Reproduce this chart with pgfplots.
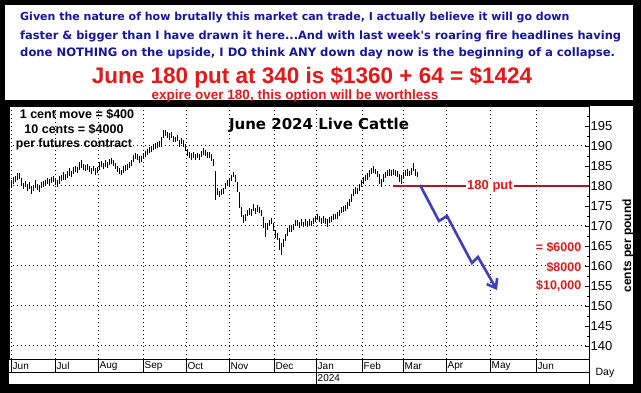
\documentclass[border=0pt]{standalone}
\usepackage{pgfplots}
\pgfplotsset{compat=1.18}
\usepackage{pgfplotstable}
\usepackage{fontspec}
\setmainfont{Liberation Sans}
\newfontfamily\dejavu{DejaVu Sans}
\usetikzlibrary{arrows.meta}
\definecolor{tblue}{RGB}{22,22,160}
\definecolor{tred}{RGB}{228,24,24}
\definecolor{lred}{RGB}{170,25,30}
\definecolor{ablue}{RGB}{62,62,190}
\pgfdeclareplotmark{ctick}{\pgfpathmoveto{\pgfqpoint{0pt}{0pt}}\pgfpathlineto{\pgfqpoint{1.4pt}{0pt}}\pgfusepathqstroke}
\pgfplotstableread{
x y e c
9 178.2 1.0 178.8
11 180.4 1.0 181.0
13 181.4 0.9 181.0
15 181.8 0.8 182.3
17 182.4 0.9 182.0
19 182.5 0.8 182.9
21 181.2 0.9 180.8
23 180.0 0.8 180.4
25 180.5 0.7 180.2
27 179.6 0.9 180.0
29 180.2 0.8 179.6
31 178.9 1.0 179.3
33 179.5 0.8 180.0
35 180.5 0.9 180.2
37 179.8 0.8 179.4
39 179.3 0.9 179.8
41 180.2 0.8 180.6
43 180.5 0.7 180.1
45 180.8 0.8 181.2
47 181.2 0.7 180.9
49 181.0 0.8 181.4
51 181.5 0.7 181.8
53 181.8 0.8 181.3
55 181.2 0.9 180.8
57 180.6 0.8 181.1
59 181.5 0.9 181.9
61 182.0 0.8 181.6
63 182.5 0.9 182.9
65 182.2 0.7 182.0
67 182.8 0.9 183.2
69 183.5 1.0 183.0
71 183.0 0.8 183.5
73 183.8 0.9 184.2
75 184.3 0.8 183.9
77 184.0 0.8 184.4
79 185.0 0.9 185.4
81 185.4 1.0 184.9
83 184.8 0.8 184.5
85 184.5 0.7 184.9
87 184.8 0.8 184.3
89 184.2 0.7 183.9
91 183.8 0.8 184.2
93 184.4 0.7 184.0
95 183.6 0.8 183.9
97 184.0 0.7 184.5
99 185.0 0.9 185.3
101 185.5 0.8 185.0
103 185.0 0.7 185.4
105 185.7 0.9 186.1
107 185.3 0.7 185.7
109 186.0 0.8 186.3
111 186.3 0.7 185.8
113 185.8 0.8 185.2
115 185.0 0.8 184.6
117 184.3 0.7 184.0
119 183.8 0.8 184.1
121 183.4 0.7 183.8
123 184.1 0.8 184.4
125 184.5 0.7 184.2
127 184.8 0.8 185.1
129 185.3 0.8 185.6
131 185.8 0.8 186.3
133 186.8 0.9 187.2
135 187.5 0.8 187.1
137 187.2 0.8 186.8
139 186.6 0.8 187.0
141 186.8 0.7 187.2
143 187.5 0.8 187.8
145 188.0 0.8 188.3
147 188.5 0.7 188.2
149 189.0 0.8 189.3
151 189.3 0.7 189.0
153 189.8 0.8 190.1
155 190.0 0.7 190.3
157 190.3 0.8 190.0
159 190.5 0.8 190.9
161 191.0 1.2 192.0
163 193.0 0.9 193.4
165 193.2 0.7 192.8
167 192.8 0.8 193.1
169 192.4 0.8 192.8
171 192.8 0.7 192.3
173 191.8 0.8 192.0
175 191.6 0.7 191.9
177 192.0 0.8 191.5
179 190.6 0.9 191.0
181 191.2 0.8 190.8
183 190.6 0.9 190.1
185 189.6 0.8 189.3
187 188.4 0.9 188.0
189 187.8 0.7 187.5
191 187.4 0.8 187.8
193 187.7 0.7 187.3
195 187.2 0.8 187.6
197 187.6 0.7 187.2
199 187.3 0.8 187.8
201 188.0 0.7 188.4
203 188.6 0.8 188.2
205 188.2 0.7 187.9
207 187.7 0.8 188.0
209 187.8 0.7 187.3
211 187.1 0.8 186.8
213 185.8 0.9 185.3
215 180.2 3.6 178.5
217 178.6 0.9 178.2
219 178.0 0.8 178.4
221 178.5 0.7 178.2
223 178.8 0.8 179.3
225 180.0 0.8 180.4
227 180.8 0.7 181.0
229 181.0 0.8 180.6
231 182.0 0.8 182.4
233 182.9 0.7 182.5
235 181.8 0.9 181.2
237 179.8 1.2 179.0
239 176.5 2.0 175.5
241 173.5 1.3 173.0
243 171.8 1.0 172.2
245 172.2 0.9 172.7
247 173.2 0.8 173.6
249 173.6 0.8 173.2
251 173.4 0.9 173.9
253 174.6 0.8 174.9
255 173.7 0.8 173.4
257 174.4 0.8 174.7
259 174.0 0.7 173.6
261 173.3 0.8 173.0
263 170.9 1.4 170.0
265 169.0 1.8 168.5
267 169.8 0.9 170.2
269 170.8 0.8 170.5
271 171.3 0.8 171.6
273 169.8 1.0 169.4
275 168.0 0.9 167.6
277 167.4 0.8 167.8
279 165.5 1.4 165.0
281 164.2 1.5 164.8
283 165.8 1.0 166.2
285 167.2 0.9 167.6
287 168.5 0.9 168.9
289 169.4 0.8 169.0
291 169.4 0.8 169.8
293 169.8 0.7 169.5
295 170.8 0.8 171.1
297 170.8 0.8 170.4
299 170.3 0.7 170.7
301 171.0 0.8 171.3
303 170.4 0.7 170.1
305 170.9 0.8 171.2
307 170.5 0.7 170.2
309 171.0 0.8 171.3
311 170.6 0.7 170.4
313 171.2 0.8 171.5
315 171.8 0.8 172.1
317 172.2 0.7 171.8
319 171.7 0.8 172.0
321 171.3 0.7 171.0
323 171.6 0.8 171.9
325 171.2 0.8 170.9
327 170.8 1.0 171.2
329 171.5 0.8 171.8
331 171.8 0.7 171.5
333 172.3 0.8 172.6
335 172.4 0.7 172.1
337 172.6 0.8 173.0
339 173.3 0.7 173.6
341 174.0 0.8 174.3
343 174.3 0.7 174.0
345 174.5 0.8 174.9
347 175.1 0.8 175.5
349 175.9 0.9 176.3
351 177.0 1.0 177.5
353 178.4 0.9 178.8
355 178.9 0.8 178.6
357 178.7 0.8 179.1
359 179.6 0.9 180.0
361 180.6 0.8 181.0
363 181.3 0.9 181.7
365 182.0 0.8 182.3
367 182.4 0.8 182.8
369 183.2 0.9 183.6
371 183.8 0.8 184.1
373 184.1 0.8 183.8
375 183.6 0.7 183.2
377 183.0 0.8 182.6
379 181.8 1.2 181.3
381 180.8 1.0 181.2
383 182.0 0.9 182.4
385 182.7 0.8 183.0
387 183.2 0.7 182.9
389 183.4 0.8 183.7
391 183.2 0.7 182.9
393 183.5 0.8 183.8
395 183.2 0.7 182.9
397 183.0 0.8 183.3
399 182.0 1.0 181.6
401 181.6 1.1 182.0
403 182.7 0.9 183.1
405 183.3 0.8 183.0
407 183.4 0.8 183.8
409 183.1 0.7 182.8
411 183.6 0.8 184.0
413 184.8 1.0 184.5
415 183.4 0.8 183.0
417 182.9 0.6 182.8
}\pricedata
\begin{document}
\begin{tikzpicture}
% frame
\fill[black] (0pt,0pt) rectangle (641pt,393pt);
\fill[white] (5pt,9pt) rectangle (633pt,388pt);
% dotted grid
\foreach \gy in {47,87,127,167,207,247}{
  \draw[black, line width=1pt, dash pattern=on 1pt off 3pt] (9pt,\gy pt) -- (589pt,\gy pt);
}
\foreach \gx in {11,55,98,143,186,229,274,316,362,403,446,490,536}{
  \draw[black, line width=1pt, dash pattern=on 1pt off 3pt] (\gx pt,34pt) -- (\gx pt,287pt);
}
\begin{axis}[
  at={(9pt,34pt)}, anchor=south west,
  scale only axis, width=580pt, height=253pt,
  xmin=9, xmax=589, ymin=136.75, ymax=200,
  axis line style={black, line width=0.6pt},
  xtick=\empty,
  ytick={140,145,...,195},
  minor ytick={142.5,147.5,...,197.5},
  ytick pos=right, yticklabel pos=right,
  tick align=inside,
  major tick length=4pt, minor tick length=2.5pt,
  tick style={black, line width=0.6pt},
  yticklabel style={font=\fontsize{13}{13}\selectfont, inner sep=1.5pt},
  /pgf/number format/assume math mode=true,
]
\addplot[black, line width=0.75pt, only marks, mark=ctick,
  error bars/.cd, y dir=both, y explicit, error mark=none,
  error bar style={black, line width=0.75pt}]
  table[x=x, y=c,
    y error plus expr=\thisrow{y}+\thisrow{e}-\thisrow{c},
    y error minus expr=\thisrow{c}-\thisrow{y}+\thisrow{e}] {\pricedata};
\addplot[lred, line width=1.8pt] coordinates {(393,180) (589,180)};
\node[fill=white, inner sep=1pt, text=tred, font=\bfseries\fontsize{13}{13}\selectfont] at (axis cs:490,180) {180 put};
\addplot[ablue, line width=2.6pt, line join=miter, -{Straight Barb[length=8pt,width=12pt]}]
  coordinates {(420,180.25) (439,171.25) (447,172.5) (472,160.75) (478,162.25) (497,154)};
\end{axis}
% separator and left border
\fill[black] (5pt,287pt) rectangle (633pt,292.5pt);
\fill[black] (5pt,9pt) rectangle (8.5pt,287pt);
% bottom bands
\draw[black, line width=0.6pt] (9pt,21pt) -- (589pt,21pt);
\draw[black, line width=0.6pt] (589pt,34pt) -- (589pt,9pt);
\foreach \mx/\ml in {11/Jun,55/Jul,98/Aug,143/Sep,186/Oct,229/Nov,274/Dec,316/Jan,362/Feb,403/Mar,446/Apr,490/May,536/Jun}{
  \draw[black, line width=0.6pt] (\mx pt,34pt) -- (\mx pt,21pt);
  \node[anchor=west, inner sep=0pt, font=\fontsize{10}{10}\selectfont] at (\mx pt+1.5pt,27pt) {\ml};
}
\draw[black, line width=0.6pt] (316pt,21pt) -- (316pt,9pt);
\node[anchor=west, inner sep=0pt, font=\fontsize{10}{10}\selectfont] at (317.5pt,15pt) {2024};
\node[font=\fontsize{10.5}{10.5}\selectfont] at (605pt,20pt) {Day};
\node[rotate=90, font=\bfseries\fontsize{12}{12}\selectfont] at (628pt,147pt) {cents per pound};
% red right annotations
\node[anchor=east, fill=white, inner sep=0.5pt, text=tred, font=\bfseries\fontsize{12.5}{12.5}\selectfont] at (582pt,146pt) {= \$6000};
\node[anchor=east, fill=white, inner sep=0.5pt, text=tred, font=\bfseries\fontsize{12.5}{12.5}\selectfont] at (582pt,126pt) {\$8000};
\node[anchor=east, fill=white, inner sep=0.5pt, text=tred, font=\bfseries\fontsize{12.5}{12.5}\selectfont] at (582pt,107pt) {\$10,000};
% chart title and left notes
\node[font=\dejavu\bfseries\fontsize{15}{15}\selectfont] at (319pt,268pt) {June 2024 Live Cattle};
\node[font=\bfseries\fontsize{12.5}{12.5}\selectfont] at (77pt,279pt) {1 cent move = \$400};
\node[font=\bfseries\fontsize{12.5}{12.5}\selectfont] at (74pt,264pt) {10 cents = \$4000};
\node[font=\bfseries\fontsize{12.3}{12.3}\selectfont] at (74pt,249pt) {per futures contract};
% top text
\node[anchor=west, inner sep=0pt, text=tblue, font=\dejavu\bfseries\fontsize{11}{11}\selectfont] at (20pt,375pt) {Given the nature of how brutally this market can trade, I actually believe it will go down};
\node[anchor=west, inner sep=0pt, text=tblue, font=\dejavu\bfseries\fontsize{11.4}{11.4}\selectfont] at (20pt,357pt) {faster \& bigger than I have drawn it here...And with last week's roaring fire headlines having};
\node[anchor=west, inner sep=0pt, text=tblue, font=\dejavu\bfseries\fontsize{11.6}{11.6}\selectfont] at (20pt,340pt) {done NOTHING on the upside, I DO think ANY down day now is the beginning of a collapse.};
\node[text=tred, font=\bfseries\fontsize{22.5}{22.5}\selectfont] at (312pt,316pt) {June 180 put at 340 is \$1360 + 64 = \$1424};
\node[text=tred, font=\bfseries\fontsize{13.5}{13.5}\selectfont] at (295pt,297pt) {expire over 180, this option will be worthless};
\end{tikzpicture}
\end{document}
